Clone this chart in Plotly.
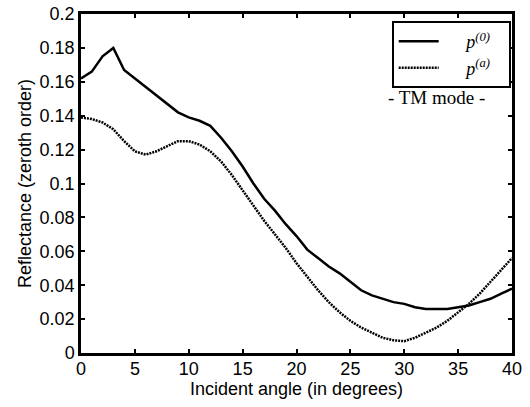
import plotly.graph_objects as go

angles = list(range(0, 41))
p0 = [0.162, 0.166, 0.175, 0.180, 0.167, 0.162, 0.157, 0.152, 0.147, 0.142,
      0.139, 0.137, 0.134, 0.127, 0.119, 0.110, 0.100, 0.091, 0.084, 0.076,
      0.069, 0.061, 0.056, 0.051, 0.047, 0.042, 0.037, 0.034, 0.032, 0.030,
      0.029, 0.027, 0.026, 0.026, 0.026, 0.027, 0.028, 0.030, 0.032, 0.035,
      0.038]
pa = [0.139, 0.138, 0.136, 0.132, 0.125, 0.119, 0.117, 0.119, 0.122, 0.125,
      0.125, 0.123, 0.119, 0.113, 0.105, 0.096, 0.087, 0.078, 0.070, 0.062,
      0.053, 0.045, 0.037, 0.030, 0.024, 0.019, 0.015, 0.012, 0.009, 0.0075,
      0.007, 0.009, 0.012, 0.015, 0.019, 0.024, 0.029, 0.035, 0.042, 0.049,
      0.056]
xticks = [0, 5, 10, 15, 20, 25, 30, 35, 40]
yticks = [0, 0.02, 0.04, 0.06, 0.08, 0.1, 0.12, 0.14, 0.16, 0.18, 0.2]
yticklabels = ["0", "0.02", "0.04", "0.06", "0.08", "0.1", "0.12", "0.14", "0.16", "0.18", "0.2"]

sp = "&nbsp;"
fig = go.Figure()
fig.add_trace(go.Scatter(x=angles, y=p0, mode="lines",
                         line=dict(color="black", width=2.5),
                         name=sp * 5 + "<i>p</i><sup><i>(0)</i></sup>" + sp * 3))
fig.add_trace(go.Scatter(x=angles, y=pa, mode="lines",
                         line=dict(color="black", width=2.5, dash="2px,1px"),
                         name=sp * 5 + "<i>p</i><sup><i>(a)</i></sup>" + sp * 3))

axis_common = dict(showline=True, linecolor="black", linewidth=2.5, mirror="ticks",
                   ticks="inside", ticklen=4, tickwidth=1.5, tickcolor="black",
                   showgrid=False, zeroline=False, automargin=False,
                   tickfont=dict(family="Liberation Sans, Arial", size=18, color="black"))

fig.update_layout(
    width=530, height=407,
    margin=dict(l=81, r=18, t=14, b=54, autoexpand=False),
    paper_bgcolor="white", plot_bgcolor="white",
    xaxis=dict(range=[0, 40], tickvals=xticks, ticklabelstandoff=-2,
               title=dict(text="Incident angle (in degrees)", standoff=0,
                          font=dict(family="Liberation Sans, Arial", size=18, color="black")),
               **axis_common),
    yaxis=dict(range=[0, 0.2], tickvals=yticks, ticktext=yticklabels,
               title=dict(text="Reflectance (zeroth order)", standoff=4,
                          font=dict(family="Liberation Sans, Arial", size=18, color="black")),
               **axis_common),
    legend=dict(x=0.997, xanchor="right", y=0.979, yanchor="top",
                bordercolor="black", borderwidth=2, bgcolor="white",
                font=dict(family="Liberation Serif, Times New Roman", size=18, color="black"),
                tracegroupgap=0, itemwidth=40),
    showlegend=True,
)
fig.add_annotation(text="- TM mode -", x=0.825, y=0.754, xref="paper", yref="paper",
                   showarrow=False, xanchor="center", yanchor="middle",
                   font=dict(family="Liberation Serif, Times New Roman", size=19, color="black"))

fig.write_html("out.html")
